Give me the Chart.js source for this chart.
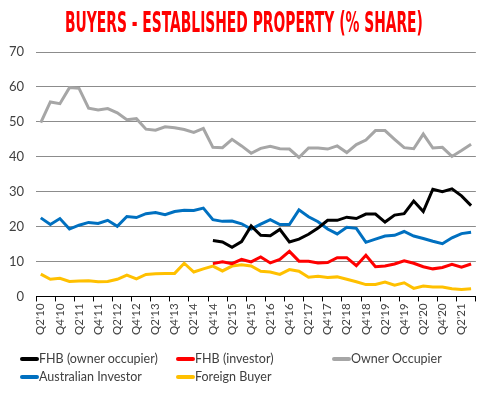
<!DOCTYPE html>
<html>
<head>
<meta charset="utf-8">
<script src="https://cdn.jsdelivr.net/npm/chart.js@4"></script>
<style>
  body { margin: 0; background: #fff; }
  #wrap { position: relative; width: 487px; height: 395px; overflow: hidden; }
  #title {
    position: absolute; left: 0; top: 9px; white-space: nowrap;
    font-family: 'Liberation Sans Narrow', 'DejaVu Sans Condensed', sans-serif;
    font-weight: bold; font-size: 28px; line-height: 28px; color: #ff0000;
    transform-origin: 0 0;
  }
  #legend { position: absolute; left: 0; top: 0; width: 487px; height: 395px; pointer-events: none; }
  .item { position: absolute; font-family: Lato, sans-serif; font-size: 12.5px; color: #404040; white-space: nowrap; }
  .item span.swatch { display: inline-block; width: 19px; height: 4px; border-radius: 2px; vertical-align: middle; position: relative; top: -1px; }
</style>
</head>
<body>
<div id="wrap">
  <canvas id="buyersChart" width="487" height="395"></canvas>
  <div id="title">BUYERS - ESTABLISHED PROPERTY (% SHARE)</div>
  <div id="legend"></div>
</div>
<script>
// quarters Q2'10 .. Q3'21
const quarters = [
  "Q2'10","Q3'10","Q4'10","Q1'11","Q2'11","Q3'11","Q4'11","Q1'12","Q2'12","Q3'12",
  "Q4'12","Q1'13","Q2'13","Q3'13","Q4'13","Q1'14","Q2'14","Q3'14","Q4'14","Q1'15",
  "Q2'15","Q3'15","Q4'15","Q1'16","Q2'16","Q3'16","Q4'16","Q1'17","Q2'17","Q3'17",
  "Q4'17","Q1'18","Q2'18","Q3'18","Q4'18","Q1'19","Q2'19","Q3'19","Q4'19","Q1'20",
  "Q2'20","Q3'20","Q4'20","Q1'21","Q2'21","Q3'21"
];

const fhbOwner = [
  null, null, null, null, null, null, null, null, null, null,
  null, null, null, null, null, null, null, null, 16.0, 15.6,
  14.1, 15.7, 20.2, 17.5, 17.4, 19.2, 15.6, 16.4, 17.8, 19.6,
  21.8, 21.8, 22.7, 22.3, 23.6, 23.6, 21.3, 23.3, 23.7, 27.3,
  24.3, 30.7, 30.0, 30.8, 28.8, 26.0
];

const fhbInvestor = [
  null, null, null, null, null, null, null, null, null, null,
  null, null, null, null, null, null, null, null, 9.4, 9.9,
  9.4, 10.6, 9.9, 11.3, 9.6, 10.6, 12.9, 10.1, 10.1, 9.6,
  9.7, 11.1, 11.1, 8.8, 11.8, 8.5, 8.7, 9.3, 10.2, 9.5,
  8.5, 7.9, 8.3, 9.2, 8.4, 9.3
];

const ownerOccupier = [
  49.8, 55.7, 55.2, 59.8, 59.6, 53.9, 53.4, 53.8, 52.6, 50.6,
  50.9, 47.9, 47.6, 48.6, 48.3, 47.8, 47.0, 48.1, 42.7, 42.6,
  45.0, 43.1, 41.0, 42.4, 43.0, 42.3, 42.2, 39.8, 42.5, 42.5,
  42.2, 43.1, 41.2, 43.5, 44.8, 47.5, 47.5, 45.0, 42.6, 42.3,
  46.5, 42.5, 42.7, 40.1, 41.8, 43.6
];

const ausInvestor = [
  22.5, 20.6, 22.3, 19.3, 20.4, 21.2, 20.9, 21.8, 20.1, 22.9,
  22.6, 23.7, 24.0, 23.4, 24.3, 24.7, 24.6, 25.3, 22.0, 21.5,
  21.6, 20.8, 19.3, 20.7, 22.0, 20.6, 20.6, 24.8, 22.8, 21.4,
  19.3, 17.9, 19.8, 19.5, 15.5, 16.4, 17.3, 17.5, 18.6, 17.3,
  16.6, 15.8, 15.1, 16.8, 18.0, 18.4
];

const foreignBuyer = [
  6.4, 4.9, 5.2, 4.3, 4.4, 4.5, 4.2, 4.3, 4.9, 6.1,
  5.0, 6.3, 6.5, 6.6, 6.6, 9.5, 7.0, 7.9, 8.7, 7.3,
  8.7, 9.1, 8.7, 7.2, 7.0, 6.3, 7.7, 7.2, 5.5, 5.8,
  5.4, 5.6, 4.9, 4.2, 3.4, 3.4, 4.1, 3.2, 3.9, 2.3,
  3.0, 2.7, 2.7, 2.2, 2.0, 2.2
];

const yTicks = [0, 10, 20, 30, 40, 50, 60, 70];

const series = [
  { label: 'FHB (owner occupier)', data: fhbOwner, color: '#000000', lx: 20, ly: 351 },
  { label: 'FHB (investor)', data: fhbInvestor, color: '#ff0000', lx: 176, ly: 351 },
  { label: 'Owner Occupier', data: ownerOccupier, color: '#a6a6a6', lx: 332, ly: 351 },
  { label: 'Australian Investor', data: ausInvestor, color: '#0070c0', lx: 20, ly: 369 },
  { label: 'Foreign Buyer', data: foreignBuyer, color: '#ffc000', lx: 176, ly: 369 }
];

// draw order: grey underneath, then the rest
const drawOrder = ['Owner Occupier', 'Australian Investor', 'Foreign Buyer', 'FHB (investor)', 'FHB (owner occupier)'];

const datasets = series.map(s => ({
  label: s.label,
  data: s.data,
  borderColor: s.color,
  backgroundColor: s.color,
  borderWidth: 3,
  pointRadius: 0,
  tension: 0,
  fill: false,
  spanGaps: false,
  order: drawOrder.length - drawOrder.indexOf(s.label)
}));

const chart = new Chart('buyersChart', {
  type: 'line',
  data: { labels: quarters, datasets },
  options: {
    responsive: false,
    animation: false,
    layout: { padding: { top: 52, left: 0, right: 11, bottom: 58 } },
    plugins: {
      legend: { display: false },
      title: { display: false },
      tooltip: { enabled: false }
    },
    scales: {
      x: {
        offset: true,
        grid: {
          offset: true,
          drawOnChartArea: false,
          drawTicks: true,
          tickLength: 5,
          color: ctx => (ctx.index === undefined || ctx.index % 2 === 0) ? '#000000' : 'rgba(0,0,0,0)'
        },
        border: { display: true, color: '#000000', width: 1 },
        ticks: {
          autoSkip: false,
          maxRotation: 90,
          minRotation: 90,
          padding: 2,
          color: '#404040',
          font: { family: 'Lato', size: 11.5 },
          callback: (val, i) => i % 2 === 0 ? quarters[i] : ''
        }
      },
      y: {
        min: 0,
        max: 70,
        afterBuildTicks: axis => { axis.ticks = yTicks.map(v => ({ value: v })); },
        afterFit: axis => { axis.width = 36; },
        grid: { color: '#8c8c8c', lineWidth: 1, drawTicks: false },
        border: { display: false },
        ticks: {
          padding: 12,
          color: '#404040',
          font: { family: 'Lato', size: 13 }
        }
      }
    }
  }
});

// legend
const legend = document.getElementById('legend');
series.forEach(s => {
  const el = document.createElement('div');
  el.className = 'item';
  el.style.left = s.lx + 'px';
  el.style.top = s.ly + 'px';
  el.innerHTML = '<span class="swatch" style="background:' + s.color + '"></span>' + s.label;
  legend.appendChild(el);
});

// fit the condensed title into its box
const title = document.getElementById('title');
const tw = title.offsetWidth;
const sx = 358 / tw;
title.style.transform = 'translateX(65px) scale(' + sx + ',1)';
</script>
</body>
</html>
